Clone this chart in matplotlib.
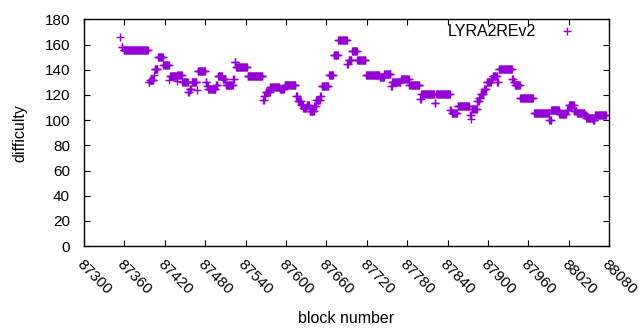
import numpy as np
import matplotlib.pyplot as plt

plt.rcParams['font.family'] = ['Liberation Sans', 'DejaVu Sans']

# runs of blocks with the same difficulty (first block, last block, difficulty)
run_start = [87354, 87356, 87359, 87396, 87398, 87404, 87405, 87410, 87418, 87427,
             87428, 87438, 87439, 87446, 87455, 87457, 87460, 87468, 87469, 87481,
             87483, 87485, 87496, 87499, 87506, 87511, 87522, 87524, 87526, 87543,
             87566, 87568, 87570, 87577, 87591, 87598, 87615, 87618, 87623, 87626,
             87631, 87635, 87642, 87645, 87651, 87653, 87664, 87671, 87678, 87691,
             87693, 87698, 87706, 87719, 87739, 87746, 87756, 87758, 87771, 87783,
             87799, 87801, 87821, 87823, 87844, 87846, 87855, 87873, 87875, 87876,
             87884, 87887, 87889, 87894, 87898, 87905, 87907, 87914, 87916, 87936,
             87938, 87940, 87948, 87968, 87991, 87994, 88006, 88017, 88020, 88028,
             88032, 88044, 88046, 88056, 88059]
run_end = [87354, 87357, 87395, 87397, 87403, 87404, 87409, 87417, 87426, 87427,
           87437, 87438, 87445, 87454, 87456, 87459, 87467, 87468, 87480, 87482,
           87484, 87495, 87498, 87505, 87510, 87521, 87523, 87525, 87542, 87565,
           87567, 87569, 87576, 87590, 87597, 87614, 87617, 87622, 87625, 87630,
           87634, 87641, 87644, 87650, 87652, 87663, 87670, 87677, 87690, 87692,
           87697, 87705, 87718, 87738, 87745, 87755, 87757, 87770, 87782, 87798,
           87800, 87820, 87822, 87843, 87845, 87854, 87872, 87874, 87875, 87883,
           87886, 87888, 87893, 87897, 87904, 87906, 87913, 87915, 87935, 87937,
           87939, 87947, 87967, 87990, 87993, 88005, 88016, 88019, 88027, 88031,
           88043, 88045, 88055, 88058, 88075]
run_value = [166, 158, 156, 130, 132, 136, 141, 150, 144, 132,
             135, 131, 136, 130, 122, 125, 130, 124, 139, 130,
             127, 125, 128, 135, 133, 128, 133, 146, 142, 135,
             116, 119, 122, 126, 125, 128, 119, 115, 112, 110,
             112, 107, 111, 116, 119, 127, 136, 152, 164, 145,
             148, 155, 148, 136, 134, 137, 127, 130, 133, 128,
             117, 121, 114, 121, 108, 106, 111, 104, 101, 109,
             115, 118, 121, 125, 130, 133, 135, 130, 141, 133,
             130, 128, 118, 106, 100, 108, 105, 108, 112, 107,
             106, 104, 102, 100, 104]

blocks = []
diff = []
for s, e, v in zip(run_start, run_end, run_value):
    for b in range(s, e + 1):
        blocks.append(b)
        diff.append(v)

fig = plt.figure(figsize=(6.4, 3.3), dpi=100)
ax = fig.add_axes([0.131, 0.2545, 0.821, 0.6865])

ax.plot(blocks, diff, linestyle='none', marker='+', color='#9400d3',
        markersize=5.5, markeredgewidth=1.0)

ax.set_xlim(87300, 88080)
ax.set_ylim(0, 180)
ax.set_xticks(np.arange(87300, 88081, 60))
ax.set_yticks(np.arange(0, 181, 20))
ax.tick_params(direction='in', length=4, width=0.8, top=True, right=True,
               labelsize=11, colors='black')
ax.tick_params(axis='y', pad=10)
ax.tick_params(axis='x', pad=8)
for lbl in ax.get_xticklabels():
    lbl.set_rotation(-45)
    lbl.set_ha('left')
    lbl.set_va('top')
    lbl.set_rotation_mode('anchor')
for sp in ax.spines.values():
    sp.set_linewidth(1.0)

ax.set_xlabel('block number', fontsize=11.5, labelpad=10)
ax.set_ylabel('difficulty', fontsize=11.5, labelpad=12)

# key in the top right corner
ax.text(0.86, 0.947, 'LYRA2REv2', transform=ax.transAxes, ha='right', va='center', fontsize=11.5)
ax.plot([0.92], [0.947], transform=ax.transAxes, marker='+', color='#9400d3',
        markersize=5.5, markeredgewidth=1.0, linestyle='none')

fig.savefig('out.png', dpi=100)
